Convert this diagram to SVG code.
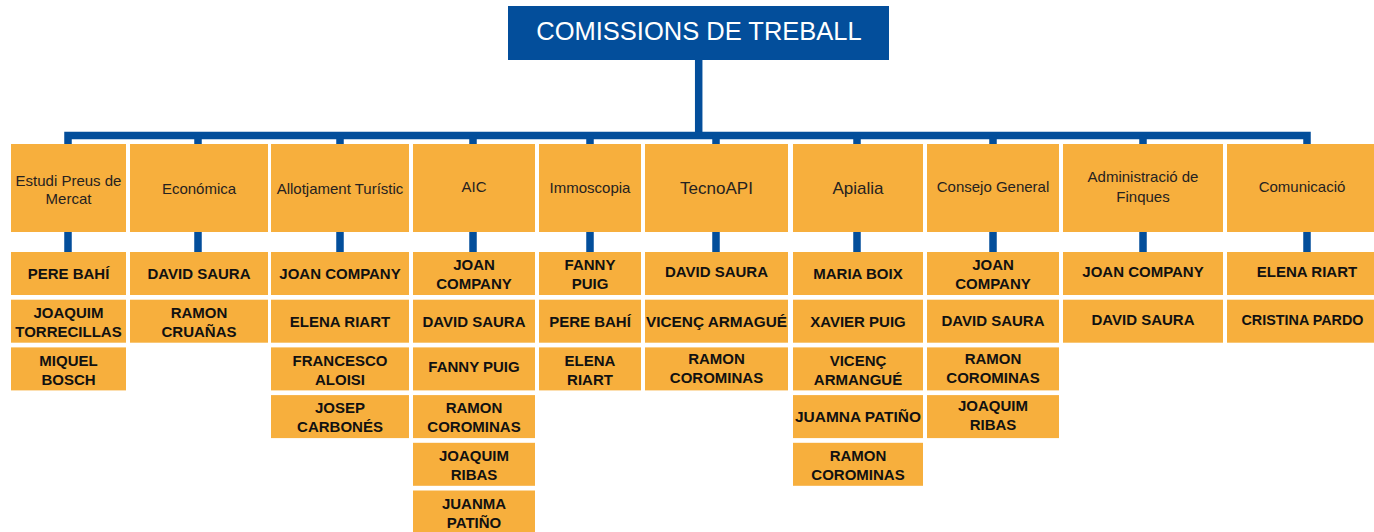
<svg xmlns="http://www.w3.org/2000/svg" width="1374" height="532" viewBox="0 0 1374 532">
<style>
.bg{fill:#ffffff}
.titlebox{fill:#034E9B}
.title{fill:#ffffff;font-family:"Liberation Sans",Arial,sans-serif;font-size:25.5px;text-anchor:middle}
.box{fill:#F7AF3D}
.lbl{fill:#262220;font-family:"Liberation Sans",Arial,sans-serif;font-size:15px;text-anchor:middle}
.big{font-size:17px}
.name{fill:#111111;font-family:"Liberation Sans",Arial,sans-serif;font-size:15px;font-weight:bold;text-anchor:middle}
.conn{fill:none;stroke:#034E9B;stroke-width:7.5;stroke-linejoin:miter}
</style>
<rect class="bg" x="0" y="0" width="1374" height="532"/>
<g id="connectors">
<path class="conn" d="M698.7,60 V135.5"/>
<path class="conn" d="M68,144 V135.5 H1307 V144"/>
<path class="conn" d="M198,135.5 V144 M340,135.5 V144 M473,135.5 V144 M590,135.5 V144 M716,135.5 V144 M857,135.5 V144 M993,135.5 V144 M1143,135.5 V144"/>
<path class="conn" d="M68,232 V252 M198,232 V252 M340,232 V252 M473,232 V252 M590,232 V252 M716,232 V252 M857,232 V252 M993,232 V252 M1143,232 V252 M1307,232 V252"/>
</g>
<g id="root">
<rect class="titlebox" x="508" y="6" width="381" height="54"/>
<text class="title" x="699" y="40">COMISSIONS DE TREBALL</text>
</g>
<g id="c1">
<rect class="box" x="11" y="144" width="115" height="88"/>
<text class="lbl" x="68.5" y="185.5">Estudi Preus de</text>
<text class="lbl" x="68.5" y="204">Mercat</text>
</g>
<g id="c1m">
<rect class="box" x="11" y="252" width="115" height="43"/>
<text class="name" x="68.5" y="279">PERE BAHÍ</text>
<rect class="box" x="11" y="299.7" width="115" height="43"/>
<text class="name" x="68.5" y="318">JOAQUIM</text>
<text class="name" x="68.5" y="337">TORRECILLAS</text>
<rect class="box" x="11" y="347.4" width="115" height="43"/>
<text class="name" x="68.5" y="365.7">MIQUEL</text>
<text class="name" x="68.5" y="384.7">BOSCH</text>
</g>
<g id="c2">
<rect class="box" x="130" y="144" width="138" height="88"/>
<text class="lbl" x="199" y="194.3">Económica</text>
</g>
<g id="c2m">
<rect class="box" x="130" y="252" width="138" height="43"/>
<text class="name" x="199" y="279">DAVID SAURA</text>
<rect class="box" x="130" y="299.7" width="138" height="43"/>
<text class="name" x="199" y="318">RAMON</text>
<text class="name" x="199" y="337">CRUAÑAS</text>
</g>
<g id="c3">
<rect class="box" x="271" y="144" width="138" height="88"/>
<text class="lbl" x="340" y="194.3">Allotjament Turístic</text>
</g>
<g id="c3m">
<rect class="box" x="271" y="252" width="138" height="43"/>
<text class="name" x="340" y="279">JOAN COMPANY</text>
<rect class="box" x="271" y="299.7" width="138" height="43"/>
<text class="name" x="340" y="326.7">ELENA RIART</text>
<rect class="box" x="271" y="347.4" width="138" height="43"/>
<text class="name" x="340" y="365.7">FRANCESCO</text>
<text class="name" x="340" y="384.7">ALOISI</text>
<rect class="box" x="271" y="395.1" width="138" height="43"/>
<text class="name" x="340" y="413.4">JOSEP</text>
<text class="name" x="340" y="432.4">CARBONÉS</text>
</g>
<g id="c4">
<rect class="box" x="413" y="144" width="122" height="88"/>
<text class="lbl" x="474" y="192.3">AIC</text>
</g>
<g id="c4m">
<rect class="box" x="413" y="252" width="122" height="43"/>
<text class="name" x="474" y="270.3">JOAN</text>
<text class="name" x="474" y="289.3">COMPANY</text>
<rect class="box" x="413" y="299.7" width="122" height="43"/>
<text class="name" x="474" y="326.7">DAVID SAURA</text>
<rect class="box" x="413" y="347.4" width="122" height="43"/>
<text class="name" x="474" y="371.5">FANNY PUIG</text>
<rect class="box" x="413" y="395.1" width="122" height="43"/>
<text class="name" x="474" y="413.4">RAMON</text>
<text class="name" x="474" y="432.4">COROMINAS</text>
<rect class="box" x="413" y="442.8" width="122" height="43"/>
<text class="name" x="474" y="461.1">JOAQUIM</text>
<text class="name" x="474" y="480.1">RIBAS</text>
<rect class="box" x="413" y="490.5" width="122" height="43"/>
<text class="name" x="474" y="508.8">JUANMA</text>
<text class="name" x="474" y="527.8">PATIÑO</text>
</g>
<g id="c5">
<rect class="box" x="539" y="144" width="102" height="88"/>
<text class="lbl" x="590" y="192.7">Immoscopia</text>
</g>
<g id="c5m">
<rect class="box" x="539" y="252" width="102" height="43"/>
<text class="name" x="590" y="270.3">FANNY</text>
<text class="name" x="590" y="289.3">PUIG</text>
<rect class="box" x="539" y="299.7" width="102" height="43"/>
<text class="name" x="590" y="326.7">PERE BAHÍ</text>
<rect class="box" x="539" y="347.4" width="102" height="43"/>
<text class="name" x="590" y="365.7">ELENA</text>
<text class="name" x="590" y="384.7">RIART</text>
</g>
<g id="c6">
<rect class="box" x="645" y="144" width="143" height="88"/>
<text class="lbl big" x="716.5" y="194.3">TecnoAPI</text>
</g>
<g id="c6m">
<rect class="box" x="645" y="252" width="143" height="43"/>
<text class="name" x="716.5" y="277">DAVID SAURA</text>
<rect class="box" x="645" y="299.7" width="143" height="43"/>
<text class="name" x="716.5" y="326.7" textLength="141" lengthAdjust="spacingAndGlyphs">VICENÇ ARMAGUÉ</text>
<rect class="box" x="645" y="347.4" width="143" height="43"/>
<text class="name" x="716.5" y="363.7">RAMON</text>
<text class="name" x="716.5" y="382.7">COROMINAS</text>
</g>
<g id="c7">
<rect class="box" x="793" y="144" width="130" height="88"/>
<text class="lbl big" x="858" y="194">Apialia</text>
</g>
<g id="c7m">
<rect class="box" x="793" y="252" width="130" height="43"/>
<text class="name" x="858" y="279">MARIA BOIX</text>
<rect class="box" x="793" y="299.7" width="130" height="43"/>
<text class="name" x="858" y="326.7">XAVIER PUIG</text>
<rect class="box" x="793" y="347.4" width="130" height="43"/>
<text class="name" x="858" y="365.7">VICENÇ</text>
<text class="name" x="858" y="384.7">ARMANGUÉ</text>
<rect class="box" x="793" y="395.1" width="130" height="43"/>
<text class="name" x="858" y="422.1" textLength="126" lengthAdjust="spacingAndGlyphs">JUAMNA PATIÑO</text>
<rect class="box" x="793" y="442.8" width="130" height="43"/>
<text class="name" x="858" y="461.1">RAMON</text>
<text class="name" x="858" y="480.1">COROMINAS</text>
</g>
<g id="c8">
<rect class="box" x="927" y="144" width="132" height="88"/>
<text class="lbl" x="993" y="192.3">Consejo General</text>
</g>
<g id="c8m">
<rect class="box" x="927" y="252" width="132" height="43"/>
<text class="name" x="993" y="270.3">JOAN</text>
<text class="name" x="993" y="289.3">COMPANY</text>
<rect class="box" x="927" y="299.7" width="132" height="43"/>
<text class="name" x="993" y="325.5">DAVID SAURA</text>
<rect class="box" x="927" y="347.4" width="132" height="43"/>
<text class="name" x="993" y="363.7">RAMON</text>
<text class="name" x="993" y="382.7">COROMINAS</text>
<rect class="box" x="927" y="395.1" width="132" height="43"/>
<text class="name" x="993" y="411.4">JOAQUIM</text>
<text class="name" x="993" y="430.4">RIBAS</text>
</g>
<g id="c9">
<rect class="box" x="1063" y="144" width="160" height="88"/>
<text class="lbl" x="1143" y="182.3">Administració de</text>
<text class="lbl" x="1143" y="201.5">Finques</text>
</g>
<g id="c9m">
<rect class="box" x="1063" y="252" width="160" height="43"/>
<text class="name" x="1143" y="277">JOAN COMPANY</text>
<rect class="box" x="1063" y="299.7" width="160" height="43"/>
<text class="name" x="1143" y="325">DAVID SAURA</text>
</g>
<g id="c10">
<rect class="box" x="1227" y="144" width="147" height="88"/>
<text class="lbl" x="1302" y="192.3">Comunicació</text>
</g>
<g id="c10m">
<rect class="box" x="1227" y="252" width="147" height="43"/>
<text class="name" x="1307" y="277">ELENA RIART</text>
<rect class="box" x="1227" y="299.7" width="147" height="43"/>
<text class="name" x="1302.5" y="325" textLength="122" lengthAdjust="spacingAndGlyphs">CRISTINA PARDO</text>
</g>
</svg>
